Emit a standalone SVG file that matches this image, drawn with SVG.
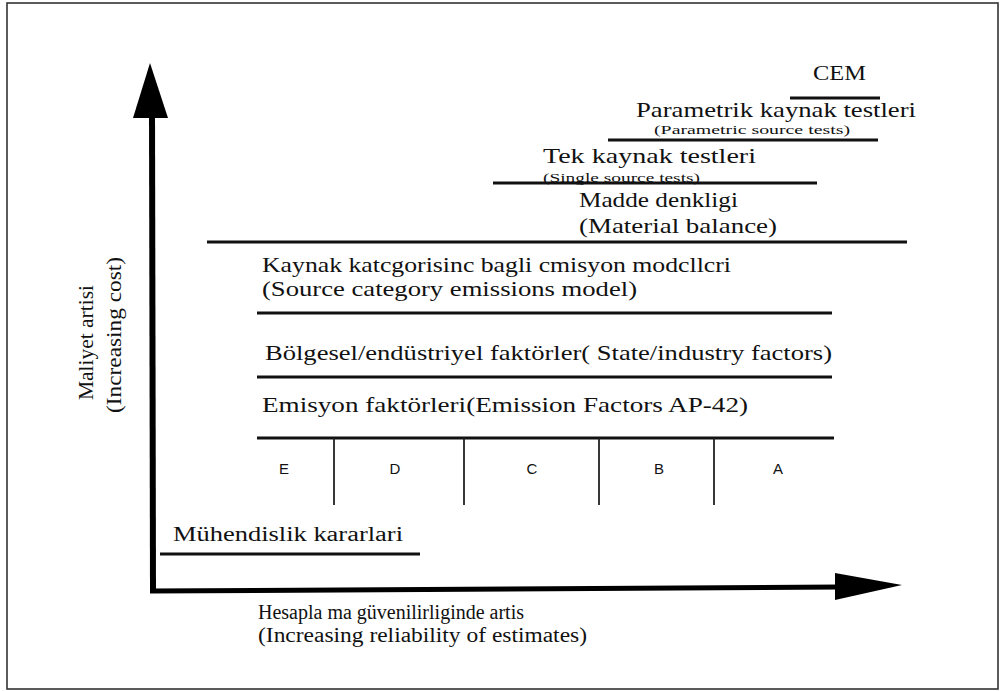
<svg xmlns="http://www.w3.org/2000/svg" width="1003" height="691" viewBox="0 0 1003 691">
<style>
.t{font-family:"Liberation Serif","Times New Roman",serif;fill:#111}
.s{font-family:"Liberation Sans",Arial,sans-serif;fill:#111;font-size:15px;text-anchor:middle}
.ln{stroke:#111;stroke-width:3;fill:none}
.dv{stroke:#222;stroke-width:1.8;fill:none}
</style>
<rect x="7" y="3" width="991" height="686" fill="#fff" stroke="#333" stroke-width="1.6"/>
<g id="axes">
<line x1="152" y1="110" x2="153" y2="592" stroke="#000" stroke-width="6"/>
<polygon points="150,63 168,118 133,118" fill="#000"/>
<line x1="150" y1="591" x2="840" y2="587" stroke="#000" stroke-width="5"/>
<polygon points="835,573 902,585 835,600" fill="#000"/>
</g>
<g id="connectors">
<line class="ln" x1="790" y1="98" x2="880" y2="98" stroke-width="2.5"/>
<line class="ln" x1="608" y1="140" x2="878" y2="140"/>
<line class="ln" x1="493" y1="183" x2="817" y2="183"/>
<line class="ln" x1="207" y1="242" x2="907" y2="242" stroke-width="3.5"/>
<line class="ln" x1="257" y1="313" x2="832" y2="313"/>
<line class="ln" x1="257" y1="377" x2="832" y2="377"/>
<line class="ln" x1="257" y1="438" x2="834" y2="438"/>
<line class="ln" x1="160" y1="554" x2="420" y2="554"/>
<line class="dv" x1="334" y1="438" x2="334" y2="505"/>
<line class="dv" x1="464" y1="438" x2="464" y2="505" stroke-width="3"/>
<line class="dv" x1="599" y1="438" x2="599" y2="505"/>
<line class="dv" x1="714" y1="438" x2="714" y2="505"/>
</g>
<g id="cem"><text class="t" x="813" y="80" font-size="21" textLength="53" lengthAdjust="spacingAndGlyphs">CEM</text></g>
<g id="parametrik">
<text class="t" x="636" y="117" font-size="22" textLength="280" lengthAdjust="spacingAndGlyphs">Parametrik kaynak testleri</text>
<text class="t" x="654" y="134" font-size="13" textLength="196" lengthAdjust="spacingAndGlyphs">(Parametric source tests)</text>
</g>
<g id="tek">
<text class="t" x="543" y="163" font-size="22" textLength="213" lengthAdjust="spacingAndGlyphs">Tek kaynak testleri</text>
<text class="t" x="543" y="182" font-size="13" textLength="157" lengthAdjust="spacingAndGlyphs">(Single source tests)</text>
</g>
<g id="madde">
<text class="t" x="579" y="207" font-size="22" textLength="159" lengthAdjust="spacingAndGlyphs">Madde denkligi</text>
<text class="t" x="579" y="233" font-size="22" textLength="198" lengthAdjust="spacingAndGlyphs">(Material balance)</text>
</g>
<g id="kaynak">
<text class="t" x="262" y="272" font-size="21" textLength="469" lengthAdjust="spacingAndGlyphs">Kaynak katcgorisinc bagli cmisyon modcllcri</text>
<text class="t" x="262" y="296" font-size="21" textLength="375" lengthAdjust="spacingAndGlyphs">(Source category emissions model)</text>
</g>
<g id="bolgesel"><text class="t" x="265" y="360" font-size="21" textLength="567" lengthAdjust="spacingAndGlyphs">Bölgesel/endüstriyel faktörler( State/industry factors)</text></g>
<g id="emisyon"><text class="t" x="262" y="412" font-size="21" textLength="486" lengthAdjust="spacingAndGlyphs">Emisyon faktörleri(Emission Factors AP-42)</text></g>
<g id="grades">
<text class="s" x="284" y="474">E</text>
<text class="s" x="395" y="474">D</text>
<text class="s" x="532" y="474">C</text>
<text class="s" x="659" y="474">B</text>
<text class="s" x="778" y="474">A</text>
</g>
<g id="muhendislik"><text class="t" x="173" y="541" font-size="20" textLength="230" lengthAdjust="spacingAndGlyphs">Mühendislik kararlari</text></g>
<g id="xlabel">
<text class="t" x="258" y="619" font-size="20" textLength="266" lengthAdjust="spacingAndGlyphs">Hesapla ma güvenilirliginde artis</text>
<text class="t" x="258" y="642" font-size="20" textLength="329" lengthAdjust="spacingAndGlyphs">(Increasing reliability of estimates)</text>
</g>
<g id="ylabel">
<text class="t" font-size="21" transform="translate(93,400) rotate(-90)" textLength="115" lengthAdjust="spacingAndGlyphs">Maliyet artisi</text>
<text class="t" font-size="21" transform="translate(121,413) rotate(-90)" textLength="156" lengthAdjust="spacingAndGlyphs">(Increasing cost)</text>
</g>
</svg>
